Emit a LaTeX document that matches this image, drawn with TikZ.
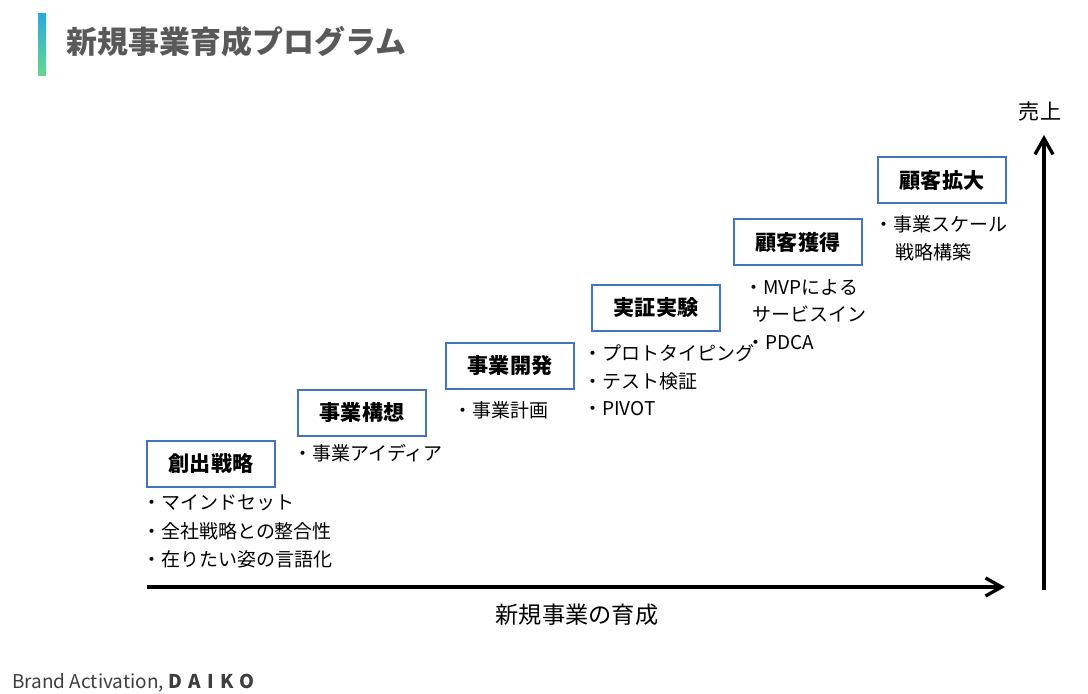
\documentclass[tikz,border=0pt]{standalone}
\usepackage{fontspec}
\setmainfont{Noto Sans CJK JP}
\usepackage{tikz}
\usetikzlibrary{arrows.meta}
\definecolor{boxblue}{HTML}{4472C4}
\definecolor{titlegray}{HTML}{595959}
\tikzset{stagebox/.style={draw=boxblue,line width=1.6pt,minimum width=3.2cm,minimum height=1.15cm,font=\fontsize{15}{17}\selectfont\bfseries},
 bullet/.style={anchor=west,inner sep=0pt,font=\fontsize{13.5}{15}\selectfont},
 axis/.style={line width=2.4pt,-{Straight Barb[length=4mm,width=4.5mm]}}}
\begin{document}
\begin{tikzpicture}[x=0.025cm,y=-0.025cm]
\useasboundingbox (0,0) rectangle (1088,694);
\shade[top color=boxblue!60!cyan,bottom color=teal!50!green!60] (38,14) rectangle (46,76);
\node[anchor=west,text=titlegray,font=\fontsize{22}{24}\selectfont\bfseries] (title) at (62,42) {新規事業育成プログラム};
% stages
\node[stagebox] (s1) at (211,464) {創出戦略};
\node[stagebox] (s2) at (362,413) {事業構想};
\node[stagebox] (s3) at (510,366) {事業開発};
\node[stagebox] (s4) at (656,308) {実証実験};
\node[stagebox] (s5) at (798,242) {顧客獲得};
\node[stagebox] (s6) at (942,180) {顧客拡大};
% bullets
\node[bullet] (b11) at (142,503) {・マインドセット};
\node[bullet] (b12) at (142,531) {・全社戦略との整合性};
\node[bullet] (b13) at (142,559) {・在りたい姿の言語化};
\node[bullet] (b21) at (293,453) {・事業アイディア};
\node[bullet] (b31) at (453,410) {・事業計画};
\node[bullet] (b41) at (583,353) {・プロトタイピング};
\node[bullet] (b42) at (583,381) {・テスト検証};
\node[bullet] (b43) at (583,409) {・PIVOT};
\node[bullet] (b51) at (744,287) {・MVPによる};
\node[bullet] (b52) at (752,314) {サービスイン};
\node[bullet] (b53) at (746,343) {・PDCA};
\node[bullet] (b61) at (874,224) {・事業スケール};
\node[bullet] (b62) at (895,252) {戦略構築};
% axes
\coordinate (xo) at (147,587);
\coordinate (xe) at (1005,587);
\coordinate (yo) at (1044,590);
\coordinate (ye) at (1044,135);
\draw[axis] (xo) -- (xe);
\draw[axis] (yo) -- (ye);
\node[font=\fontsize{16.5}{18}\selectfont] (xl) at (577,615) {新規事業の育成};
\node[font=\fontsize{15}{17}\selectfont] (yl) at (1040,112) {売上};
% footer
\node[anchor=west,inner sep=0pt,font=\fontsize{13.5}{15}\selectfont,text=titlegray!70!black] (brand) at (12,683) {Brand Activation, \textbf{D\,\,A\,\,I\,\,K\,\,O}};
\end{tikzpicture}
\end{document}
